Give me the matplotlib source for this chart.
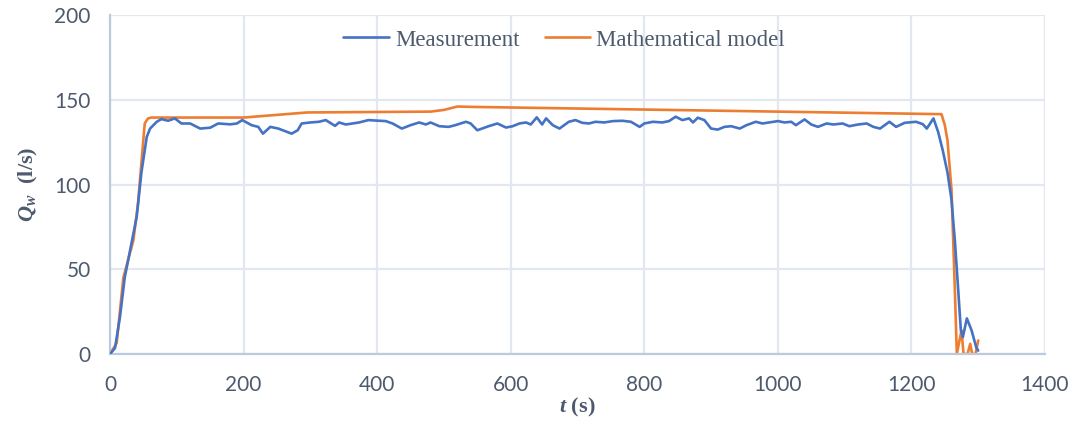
import numpy as np
import matplotlib
matplotlib.use("Agg")
import matplotlib.pyplot as plt

# Measured discharge (time in s, Q in l/s)
meas_t = [0, 7.5, 15, 22, 32, 40, 47, 55, 60, 70, 77, 87, 97, 107, 120, 135, 150, 162, 180, 190,
          198, 212, 222, 229, 240, 252, 272, 281,
          287, 300, 313, 323, 337, 343, 353, 363, 373, 387, 403, 413, 423, 437, 450, 463, 473, 480,
          493, 507, 517, 533, 540, 550, 567, 580, 593, 603, 613, 623, 630, 639, 647, 653, 663, 673,
          687, 697, 707, 717, 727, 740, 753, 767, 780, 793, 800, 813, 827, 837, 847, 857, 867, 873,
          880, 890, 900, 910, 920, 930, 943, 953, 967, 977, 987, 1000, 1010, 1020, 1027, 1040, 1050,
          1060, 1073, 1083, 1097, 1107, 1120, 1133, 1143, 1153, 1167, 1177, 1190, 1207, 1217, 1223,
          1233, 1240, 1247, 1254, 1260, 1265, 1270, 1274, 1277, 1283, 1290, 1297, 1300]
meas_q = [0, 3.5, 22, 45, 65, 81, 107, 128, 133, 137, 138.6, 137.6, 139, 136, 136, 133, 133.5, 136, 135.5, 136,
          138, 135, 134, 130, 134, 133, 130, 132,
          136, 136.6, 137, 138, 134.6, 136.6, 135.4, 136, 136.6, 138, 137.6, 137.4, 136, 133, 135, 136.6, 135.4, 136.6,
          134.4, 134, 135, 137, 136, 132, 134.4, 136, 133.6, 134.4, 136, 136.6, 135.4, 139.6, 135.4, 139, 135, 133,
          137, 138, 136.4, 136, 137, 136.6, 137.4, 137.6, 137, 134, 136, 137, 136.6, 137.4, 140, 138, 139, 136.6,
          139.4, 138, 133, 132.4, 134, 134.4, 133, 135, 137, 136, 136.6, 137.4, 136.6, 137, 135, 138.4, 135.4,
          134, 136, 135.4, 136, 134.4, 135.4, 136, 134, 133, 137, 134, 136.4, 137, 135.6, 133,
          139, 131, 120, 107, 91, 67, 38, 14, 10, 21, 14, 4, 2]

# Mathematical model
model_t = [0, 10, 20, 35, 42, 52, 57, 62, 200, 295, 480, 500, 520, 540, 1245, 1250, 1254, 1260, 1265,
           1268, 1272, 1275, 1278, 1284, 1288, 1291, 1296, 1300]
model_q = [0, 6.5, 45, 67, 89, 136, 139, 139.5, 139.5, 142.5, 143, 144, 146, 145.8, 141.5, 135, 126, 97, 38,
           0, 8, 14, 0, 0, 6, 0, 0, 8]

x_ticks = [0, 200, 400, 600, 800, 1000, 1200, 1400]
y_ticks = [0, 50, 100, 150, 200]

plt.rcParams['mathtext.fontset'] = 'custom'
plt.rcParams['mathtext.rm'] = 'Liberation Serif:bold'
plt.rcParams['mathtext.it'] = 'Liberation Serif:italic:bold'
plt.rcParams['mathtext.bf'] = 'Liberation Serif:bold'

text_col = '#4d5a6e'
grid_col = '#e3e8f0'
spine_col = '#bccadf'

fig = plt.figure(figsize=(10.72, 4.28), dpi=100)
ax = fig.add_axes([110/1072, 1-354/428, (1045-110)/1072, (354-15)/428])

ax.plot(meas_t, meas_q, color='#4472C4', lw=1.9, label='Measurement', zorder=3,
        solid_joinstyle='round', solid_capstyle='round')
ax.plot(model_t, model_q, color='#ED7D31', lw=1.9, label='Mathematical model', zorder=2,
        solid_joinstyle='round', solid_capstyle='round')

ax.set_xlim(0, 1400)
ax.set_ylim(0, 200)
ax.set_xticks(x_ticks)
ax.set_yticks(y_ticks)
ax.grid(True, color=grid_col, lw=1.6)
ax.set_axisbelow(True)
for s in ['top', 'right']:
    ax.spines[s].set_visible(False)
for s in ['left', 'bottom']:
    ax.spines[s].set_color(spine_col)
    ax.spines[s].set_linewidth(1.6)
ax.tick_params(length=0, labelsize=15, labelcolor=text_col)
ax.tick_params(axis='y', pad=14)
ax.tick_params(axis='x', pad=15)
for lab in ax.get_xticklabels() + ax.get_yticklabels():
    lab.set_fontfamily('Lato')

ax.set_xlabel(r'$t\ \mathrm{(s)}$', fontsize=16, color=text_col, labelpad=1)
ax.set_ylabel(r'$Q_w\ \ \mathrm{(l/s)}$', fontsize=16, color=text_col, labelpad=10)

leg = ax.legend(loc='center', bbox_to_anchor=(564/1072, 1-40/428), bbox_transform=fig.transFigure,
                ncol=2, frameon=False, handlelength=2.0, columnspacing=1.1, handletextpad=0.25,
                prop={'family': 'Liberation Serif', 'size': 16.5})
for t in leg.get_texts():
    t.set_color(text_col)

fig.savefig('out.png', dpi=100)
